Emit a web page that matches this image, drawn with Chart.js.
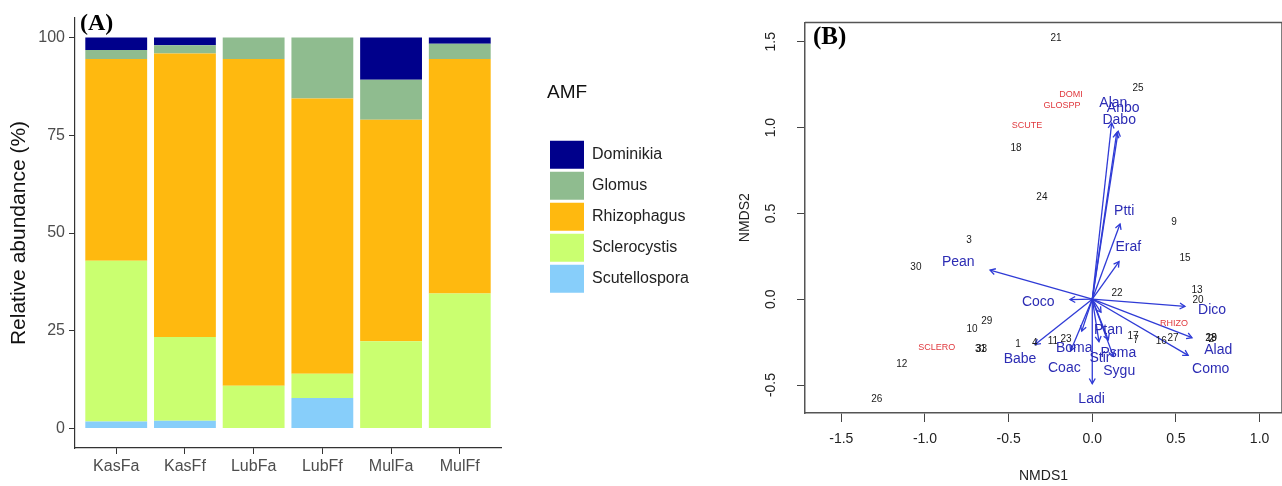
<!DOCTYPE html>
<html><head><meta charset="utf-8">
<script src="https://cdn.jsdelivr.net/npm/chart.js@4.4.1/dist/chart.umd.min.js"></script>
<style>
html,body{margin:0;padding:0;background:#fff;overflow:hidden;}
#a{position:absolute;left:0;top:0;}
#b{position:absolute;left:730px;top:0;}
</style></head><body>
<canvas id="a" width="730" height="486"></canvas>
<canvas id="b" width="552" height="486"></canvas>
<script>
// ---------- Panel A data ----------
const categories = ['KasFa','KasFf','LubFa','LubFf','MulFa','MulFf'];
const dominikia     = [3.2, 2.0, 0,    0,    10.8, 1.6];
const glomus        = [2.3, 2.1, 5.5,  15.6, 10.2, 3.9];
const rhizophagus   = [51.6,72.5,83.6, 70.4, 56.7, 60.0];
const sclerocystis  = [41.1,21.4,10.9, 6.2,  22.3, 34.5];
const scutellospora = [1.8, 2.0, 0,    7.8,  0,    0];
const abundanceTicks = [0,25,50,75,100];

// ---------- Panel B data ----------
const siteNames = ['21','25','18','24','9','3','30','15','13','20','22','29','10','31','33','12','26','1','4','11','23','17','7','16','27','28','19','2'];
const siteX = [-0.217,0.273,-0.456,-0.301,0.488,-0.737,-1.054,0.554,0.626,0.632,0.148,-0.630,-0.719,-0.668,-0.662,-1.138,-1.288,-0.444,-0.343,-0.235,-0.157,0.244,0.261,0.412,0.483,0.709,0.713,0.711];
const siteY = [1.521,1.230,0.877,0.597,0.449,0.341,0.187,0.238,0.055,-0.007,0.033,-0.127,-0.173,-0.293,-0.290,-0.378,-0.584,-0.264,-0.258,-0.247,-0.236,-0.213,-0.241,-0.247,-0.230,-0.230,-0.228,-0.232];
const amfCodes = ['DOMI','GLOSPP','SCUTE','RHIZO','SCLERO'];
const amfX = [-0.127,-0.181,-0.390,0.488,-0.929];
const amfY = [1.190,1.127,1.013,-0.139,-0.281];
const vectorNames  = ['Alan','Anbo','Dabo','Ptti','Eraf','Pean','Coco','Dico','Alad','Como','Ladi','Babe','Coac','Boma','Ptan','Stir','Psma','Sygu'];
const vectorX      = [0.116,0.155,0.146,0.166,0.160,-0.611,-0.133,0.554,0.596,0.573,0.000,-0.342,-0.129,-0.063,0.052,0.040,0.126,0.096];
const vectorY      = [1.027,0.979,0.970,0.438,0.219,0.169,-0.002,-0.042,-0.224,-0.327,-0.492,-0.264,-0.300,-0.186,-0.076,-0.247,-0.333,-0.237];
const vectorLabelX = [0.126,0.185,0.161,0.191,0.215,-0.801,-0.323,0.716,0.753,0.708,-0.004,-0.432,-0.167,-0.108,0.096,0.046,0.156,0.161];
const vectorLabelY = [1.141,1.112,1.046,0.513,0.301,0.215,-0.019,-0.064,-0.295,-0.409,-0.585,-0.350,-0.401,-0.285,-0.180,-0.342,-0.317,-0.418];
const nmds1Ticks = [-1.5,-1.0,-0.5,0,0.5,1.0];
const nmds2Ticks = [-0.5,0,0.5,1.0,1.5];

const FONT = '"Liberation Sans", Arial, sans-serif';
Chart.defaults.font.family = FONT;

const panelTag = {
  id:'panelTag',
  afterDraw(chart, args, opts){
    const c = chart.ctx; c.save();
    c.font = 'bold ' + opts.size + 'px "Liberation Serif", "Times New Roman", serif';
    c.fillStyle = '#000'; c.textAlign='left'; c.textBaseline='middle';
    c.fillText(opts.text, opts.x, opts.y); c.restore();
  }
};
// places the (chartArea-positioned) legend to the right of the plot
const legendPlace = {
  id:'legendPlace',
  afterLayout(chart, args, o){
    const lg = chart.legend; if (!lg) return;
    lg.left = o.left; lg.right = o.left + o.width; lg.top = o.top; lg.bottom = o.bottom;
  }
};

// ---------- Chart A ----------
const seriesA = [
  {label:'Scutellospora', data:scutellospora, color:'#87CEFA'},
  {label:'Sclerocystis',  data:sclerocystis,  color:'#CAFF70'},
  {label:'Rhizophagus',   data:rhizophagus,   color:'#FFB90F'},
  {label:'Glomus',        data:glomus,        color:'#8FBC8F'},
  {label:'Dominikia',     data:dominikia,     color:'#00008B'}
];
new Chart(document.getElementById('a'), {
  type:'bar',
  data:{labels:categories, datasets:seriesA.map(s=>({label:s.label,data:s.data,backgroundColor:s.color,borderColor:s.color,borderWidth:0,barPercentage:0.9,categoryPercentage:1.0}))},
  plugins:[panelTag, legendPlace],
  options:{
    responsive:false, animation:false,
    layout:{padding:{left:0,top:18,right:229,bottom:0}},
    plugins:{
      tooltip:{enabled:false},
      panelTag:{text:'(A)', x:80, y:24, size:24},
      legendPlace:{left:547, width:180, top:18, bottom:486},
      legend:{position:'chartArea', align:'start', reverse:true,
        title:{display:true,text:'AMF',position:'start',color:'#111',font:{size:19},padding:{top:65,bottom:32}},
        labels:{boxWidth:34,boxHeight:28,padding:3,color:'#222',font:{size:16}}
      }
    },
    scales:{
      x:{stacked:true, offset:true,
        afterBuildTicks(s){ s._startValue = -0.6; s._valueRange = categories.length + 0.2; },
        afterFit(s){ s.height = 38; },
        grid:{display:true,drawOnChartArea:false,offset:false,tickLength:6,color:'#333'},
        border:{color:'#333',width:1.2},
        ticks:{color:'#4d4d4d',font:{size:16},padding:3,maxRotation:0,autoSkip:false}},
      y:{stacked:true, min:-5, max:105,
        afterBuildTicks(s){ s.ticks = abundanceTicks.map(v=>({value:v})); },
        afterFit(s){ s.width = 75; },
        grid:{drawOnChartArea:false,tickLength:6,color:'#333'},
        border:{color:'#333',width:1.2},
        ticks:{color:'#4d4d4d',font:{size:16},padding:4},
        title:{display:true,text:'Relative abundance (%)',color:'#111',font:{size:21},padding:{top:7,bottom:0}}}
    }
  }
});

// ---------- Chart B ----------
const textMarks = {
  id:'textMarks',
  afterDatasetsDraw(chart){
    const c = chart.ctx;
    const area = chart.chartArea;
    chart.data.datasets.forEach((ds,i)=>{
      const meta = chart.getDatasetMeta(i);
      if (ds.arrow){
        const p0 = meta.data[0], p1 = meta.data[1];
        const ang = Math.atan2(p1.y-p0.y, p1.x-p0.x);
        const L = 6, a = Math.PI/6;
        c.save(); c.strokeStyle = ds.borderColor; c.lineWidth = ds.borderWidth;
        c.beginPath();
        c.moveTo(p1.x - L*Math.cos(ang-a), p1.y - L*Math.sin(ang-a));
        c.lineTo(p1.x, p1.y);
        c.lineTo(p1.x - L*Math.cos(ang+a), p1.y - L*Math.sin(ang+a));
        c.stroke(); c.restore();
      }
    });
    chart.data.datasets.forEach((ds,i)=>{
      if (!ds.texts) return;
      const meta = chart.getDatasetMeta(i);
      c.save(); c.fillStyle = ds.textColor; c.font = ds.textFont;
      c.textAlign='center'; c.textBaseline='middle';
      meta.data.forEach((el,j)=>{ c.fillText(ds.texts[j], el.x, el.y); });
      c.restore();
    });
    c.save(); c.strokeStyle='#555'; c.lineWidth=1.5;
    c.beginPath(); c.moveTo(area.left, area.top); c.lineTo(area.right, area.top);
    c.moveTo(area.right, area.top); c.lineTo(area.right, area.bottom); c.stroke(); c.restore();
  }
};
const ARROW = '#2f3bd6';
const pts = (xs, ys) => xs.map((x,i)=>({x:x, y:ys[i]}));
const arrowSets = vectorNames.map((n,i)=>({
  label:n, data:[{x:0,y:0},{x:vectorX[i],y:vectorY[i]}], showLine:true, arrow:true,
  borderColor:ARROW, borderWidth:1.3, pointRadius:0, pointHoverRadius:0
}));
new Chart(document.getElementById('b'), {
  type:'scatter',
  data:{datasets:[
    ...arrowSets,
    {label:'sites', data:pts(siteX,siteY), pointRadius:0, texts:siteNames, textColor:'#1a1a1a', textFont:'10px ' + FONT},
    {label:'amf', data:pts(amfX,amfY), pointRadius:0, texts:amfCodes, textColor:'#e0393e', textFont:'9px ' + FONT},
    {label:'vectors', data:pts(vectorLabelX,vectorLabelY), pointRadius:0, texts:vectorNames, textColor:'#2c2cb4', textFont:'14px ' + FONT}
  ]},
  plugins:[textMarks, panelTag],
  options:{
    responsive:false, animation:false,
    layout:{padding:{left:0,top:14,right:0,bottom:0}},
    plugins:{legend:{display:false}, tooltip:{enabled:false}, panelTag:{text:'(B)', x:83, y:38, size:25}},
    scales:{
      x:{type:'linear', min:-1.717, max:1.134,
        afterBuildTicks(s){ s.ticks = nmds1Ticks.map(v=>({value:v})); },
        afterFit(s){ s.height = 73; },
        grid:{drawOnChartArea:false,tickLength:9,color:'#444'},
        border:{color:'#555',width:1.5},
        ticks:{color:'#222',font:{size:14},padding:9,maxRotation:0,callback:v=>Number(v).toFixed(1)},
        title:{display:true,text:'NMDS1',color:'#222',font:{size:14},padding:{top:0,bottom:1}}},
      y:{type:'linear', min:-0.663, max:1.613,
        afterBuildTicks(s){ s.ticks = nmds2Ticks.map(v=>({value:v})); },
        afterFit(s){ s.width = 75; },
        grid:{drawOnChartArea:false,tickLength:8,color:'#444'},
        border:{color:'#555',width:1.5},
        ticks:{minRotation:90,maxRotation:90,crossAlign:'center',padding:14,color:'#222',font:{size:14},callback:v=>Number(v).toFixed(1)},
        title:{display:true,text:'NMDS2',color:'#222',font:{size:14},padding:{top:6.6,bottom:0}}}
    }
  }
});
</script>
</body></html>
